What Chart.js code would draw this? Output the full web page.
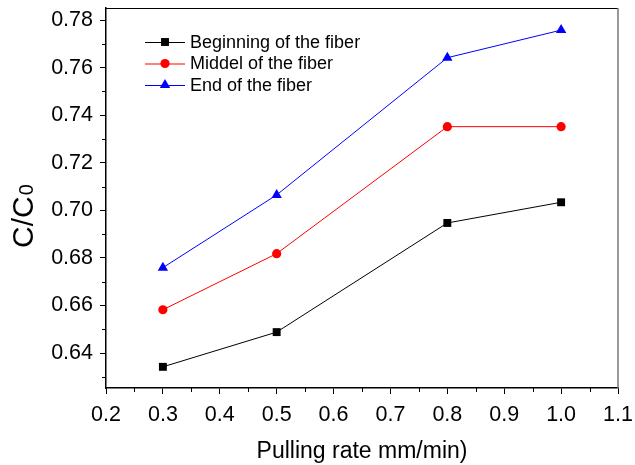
<!DOCTYPE html>
<html>
<head>
<meta charset="utf-8">
<script src="https://cdn.jsdelivr.net/npm/chart.js@4/dist/chart.umd.min.js"></script>
<style>
	html, body { margin: 0; padding: 0; background: #fff; }
	#wrap { width: 635px; height: 465px; position: relative; }
</style>
</head>
<body>
<div id="wrap"><canvas id="chart"></canvas></div>
<script>
// pulling rate (mm/min)
const pullingRates = [0.3, 0.5, 0.8, 1.0];
const beginningValues = [0.6342, 0.6488, 0.6947, 0.7034];
const middleValues = [0.6582, 0.6818, 0.7352, 0.7352];
const endValues = [0.6759, 0.7065, 0.7642, 0.7758];
const seriesLabels = ["Beginning of the fiber", "Middel of the fiber", "End of the fiber"];
const xTicks = [0.2, 0.3, 0.4, 0.5, 0.6, 0.7, 0.8, 0.9, 1.0, 1.1];
const yTicks = [0.64, 0.66, 0.68, 0.70, 0.72, 0.74, 0.76, 0.78];

const FONT = "Arial, 'Liberation Sans', sans-serif";

function toPoints(values) {
	return values.map((v, i) => ({ x: pullingRates[i], y: v }));
}

// frame, minor ticks, y title (with subscript) and in-plot legend
const decorations = {
	id: "decorations",
	afterDraw(chart) {
		const ctx = chart.ctx;
		const area = chart.chartArea;
		const xs = chart.scales.x;
		const ys = chart.scales.y;
		ctx.save();
		// top + right frame
		ctx.strokeStyle = "#000";
		ctx.lineWidth = 1;
		ctx.beginPath();
		ctx.moveTo(area.left, area.top + 0.5);
		ctx.lineTo(area.right, area.top + 0.5);
		ctx.stroke();
		ctx.strokeStyle = "#777";
		ctx.lineWidth = 1.5;
		ctx.beginPath();
		ctx.moveTo(area.right, area.top);
		ctx.lineTo(area.right, area.bottom);
		ctx.stroke();
		// minor ticks
		ctx.strokeStyle = "#000";
		ctx.lineWidth = 1;
		for (let i = 0; i < xTicks.length - 1; i++) {
			const px = Math.round(xs.getPixelForValue((xTicks[i] + xTicks[i + 1]) / 2)) + 0.5;
			ctx.beginPath();
			ctx.moveTo(px, area.bottom);
			ctx.lineTo(px, area.bottom + 4);
			ctx.stroke();
		}
		const yMinor = [0.63, 0.65, 0.67, 0.69, 0.71, 0.73, 0.75, 0.77];
		yMinor.forEach((v) => {
			const py = Math.round(ys.getPixelForValue(v)) + 0.5;
			ctx.beginPath();
			ctx.moveTo(area.left, py);
			ctx.lineTo(area.left - 4, py);
			ctx.stroke();
		});
		// y axis title: C/C0 with subscript
		ctx.save();
		ctx.translate(33, 248);
		ctx.rotate(-Math.PI / 2);
		ctx.fillStyle = "#000";
		ctx.textBaseline = "alphabetic";
		ctx.textAlign = "left";
		ctx.font = "30px " + FONT;
		ctx.fillText("C/C", 0, 0);
		const w = ctx.measureText("C/C").width;
		ctx.font = "20px " + FONT;
		ctx.fillText("0", w + 1, 0);
		ctx.restore();
		// legend
		ctx.font = "18px " + FONT;
		ctx.textBaseline = "middle";
		ctx.textAlign = "left";
		chart.data.datasets.forEach((ds, i) => {
			const y = 42 + i * 21.5;
			ctx.strokeStyle = ds.borderColor;
			ctx.lineWidth = 1;
			ctx.beginPath();
			ctx.moveTo(145, y + 0.5);
			ctx.lineTo(185, y + 0.5);
			ctx.stroke();
			ctx.fillStyle = ds.pointBackgroundColor;
			Chart.helpers.drawPoint(ctx, { pointStyle: ds.pointStyle, radius: ds.pointRadius, borderWidth: 0 }, 165, y);
			ctx.fillStyle = "#000";
			ctx.fillText(ds.label, 190, y + 1);
		});
		ctx.restore();
	},
};

const colors = ["#000000", "#ff0000", "#0000ff"];
const styles = ["rect", "circle", "triangle"];
const radii = [5.6, 4.6, 6];
const seriesValues = [beginningValues, middleValues, endValues];

// keep the plot area fixed: no extra room reserved for edge labels
function noEdgePadding(scale) {
	scale.paddingTop = 0;
	scale.paddingBottom = 0;
	scale.paddingLeft = 0;
	scale.paddingRight = 0;
}

new Chart(document.getElementById("chart"), {
	type: "line",
	data: {
		datasets: seriesValues.map((vals, i) => ({
			label: seriesLabels[i],
			data: toPoints(vals),
			borderColor: colors[i],
			backgroundColor: colors[i],
			pointBackgroundColor: colors[i],
			pointBorderWidth: 0,
			pointStyle: styles[i],
			pointRadius: radii[i],
			borderWidth: 1,
			tension: 0,
		})),
	},
	options: {
		responsive: true,
		maintainAspectRatio: false,
		animation: false,
		layout: { padding: { top: 8, right: 17, left: 0, bottom: 0 } },
		plugins: {
			legend: { display: false },
			tooltip: { enabled: false },
		},
		scales: {
			x: {
				type: "linear",
				min: 0.2,
				max: 1.1,
				afterBuildTicks: (scale) => {
					scale.ticks = xTicks.map((v) => ({ value: v }));
				},
				ticks: {
					color: "#000",
					font: { family: FONT, size: 21.5 },
					padding: 8,
					maxRotation: 0,
					callback: (v) => v.toFixed(1),
				},
				grid: {
					drawOnChartArea: false,
					drawTicks: true,
					tickLength: 6,
					tickColor: "#000",
					tickWidth: 1,
				},
				border: { color: "#000", width: 1.5 },
				title: {
					display: true,
					text: "Pulling rate mm/min)",
					color: "#000",
					font: { family: FONT, size: 23 },
					padding: { top: 4, bottom: 0 },
				},
				afterFit: (scale) => {
					scale.height = 77;
					noEdgePadding(scale);
				},
			},
			y: {
				type: "linear",
				min: 0.6253,
				max: 0.7851,
				afterBuildTicks: (scale) => {
					scale.ticks = yTicks.map((v) => ({ value: v }));
				},
				ticks: {
					color: "#000",
					font: { family: FONT, size: 21.5 },
					padding: 7,
					callback: (v) => v.toFixed(2),
				},
				grid: {
					drawOnChartArea: false,
					drawTicks: true,
					tickLength: 6,
					tickColor: "#000",
					tickWidth: 1,
				},
				border: { color: "#000", width: 1.5 },
				title: { display: false },
				afterFit: (scale) => {
					scale.width = 106;
					noEdgePadding(scale);
				},
			},
		},
	},
	plugins: [decorations],
});
</script>
</body>
</html>
